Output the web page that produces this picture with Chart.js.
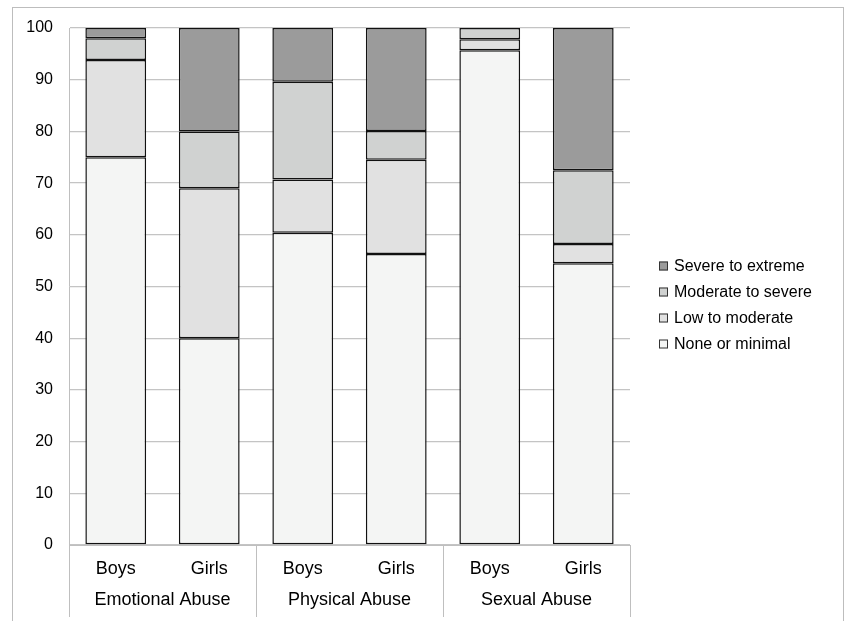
<!DOCTYPE html>
<html>
<head>
<meta charset="utf-8">
<script src="https://cdn.jsdelivr.net/npm/chart.js@4/dist/chart.umd.min.js"></script>
<style>
  html, body { margin: 0; padding: 0; background: #fff; }
  #wrap { position: relative; width: 846px; height: 621px; }
  #frame { position: absolute; left: 12px; top: 7px; width: 830px; height: 620px;
           border: 1px solid #BDBDBD; border-bottom: none; pointer-events: none; }
  canvas { position: absolute; left: 0; top: 0; }
</style>
</head>
<body>
<div id="wrap">
  <canvas id="c" width="846" height="621"></canvas>
  <div id="frame"></div>
</div>
<script>
const categories = ['Boys', 'Girls', 'Boys', 'Girls', 'Boys', 'Girls'];
const groups = ['Emotional Abuse', 'Physical Abuse', 'Sexual Abuse'];
const seriesNames = ['None or minimal', 'Low to moderate', 'Moderate to severe', 'Severe to extreme'];
const noneMinimal      = [75.0, 40.0, 60.4, 56.3, 95.7, 54.5];
const lowModerate      = [18.8, 29.0, 10.3, 18.2, 2.1, 3.7];
const moderateSevere   = [4.2, 11.0, 18.9, 5.6, 2.2, 14.3];
const severeExtreme    = [2.0, 20.0, 10.4, 19.9, 0.0, 27.5];
const yTicks = [0, 10, 20, 30, 40, 50, 60, 70, 80, 90, 100];

const colors = ['#F4F5F4', '#E1E1E1', '#D0D2D1', '#9B9B9B'];
const values = [noneMinimal, lowModerate, moderateSevere, severeExtreme];

const FONT = '"Liberation Sans", Arial, Helvetica, sans-serif';

const datasets = seriesNames.map((name, i) => ({
  label: name,
  data: values[i],
  backgroundColor: colors[i],
  borderColor: '#111',
  borderWidth: 1.5,
  borderSkipped: false,
  barPercentage: 0.65,
  categoryPercentage: 1.0,
  xAxisID: 'x'
}));

const extras = {
  id: 'extras',
  afterDraw(chart) {
    const ctx = chart.ctx;
    const xs = chart.scales.x;
    const area = chart.chartArea;
    // group separators below the axis
    ctx.save();
    ctx.strokeStyle = '#BFBFBF';
    ctx.lineWidth = 1;
    const n = categories.length;
    const step = (area.right - area.left) / n;
    for (let g = 0; g <= groups.length; g++) {
      const idx = g * 2;
      const px = idx < n ? xs.getPixelForValue(idx) - step / 2 : xs.getPixelForValue(n - 1) + step / 2;
      const x = Math.round(px) + 0.5;
      ctx.beginPath();
      ctx.moveTo(x, area.bottom);
      ctx.lineTo(x, 617);
      ctx.stroke();
    }
    ctx.restore();

    // legend (reversed order)
    ctx.save();
    ctx.font = '16px ' + FONT;
    ctx.textBaseline = 'middle';
    ctx.textAlign = 'left';
    const ds = chart.data.datasets.slice().reverse();
    const y0 = 266, dy = 26;
    ds.forEach((d, i) => {
      const y = y0 + i * dy;
      ctx.fillStyle = d.backgroundColor;
      ctx.fillRect(659, y - 4.5, 9, 9);
      ctx.strokeStyle = '#333';
      ctx.lineWidth = 1;
      ctx.strokeRect(659.5, y - 4, 8, 8);
      ctx.fillStyle = '#000';
      ctx.fillText(d.label, 674, y + 1);
    });
    ctx.restore();
  }
};

new Chart(document.getElementById('c'), {
  type: 'bar',
  data: { labels: categories, datasets },
  options: {
    responsive: false,
    animation: false,
    devicePixelRatio: 1,
    layout: { padding: { left: 12, right: 216, top: 28, bottom: 0 } },
    plugins: { legend: { display: false }, tooltip: { enabled: false } },
    scales: {
      x: {
        type: 'category',
        stacked: true,
        labels: categories,
        grid: { display: false, drawTicks: false },
        border: { display: true, color: '#BFBFBF', width: 1 },
        ticks: { color: '#000', font: { family: FONT, size: 18 }, padding: 13, maxRotation: 0, autoSkip: false },
        afterFit: (s) => { s.height = 36; }
      },
      x2: {
        type: 'category',
        position: 'bottom',
        labels: groups,
        grid: { display: false, drawTicks: false },
        border: { display: false },
        ticks: { color: '#000', font: { family: FONT, size: 18 }, padding: 8, maxRotation: 0, autoSkip: false },
        afterFit: (s) => { s.height = 40; }
      },
      y: {
        stacked: true,
        min: 0,
        max: 100,
        afterBuildTicks: (s) => { s.ticks = yTicks.map(v => ({ value: v })); },
        grid: { color: '#C4C4C4', lineWidth: 1.3, drawTicks: false },
        border: { display: true, color: '#BFBFBF', width: 1 },
        ticks: { color: '#000', font: { family: FONT, size: 16 }, padding: 16 },
        afterFit: (s) => { s.width = 57; }
      }
    }
  },
  plugins: [extras]
});
</script>
</body>
</html>
